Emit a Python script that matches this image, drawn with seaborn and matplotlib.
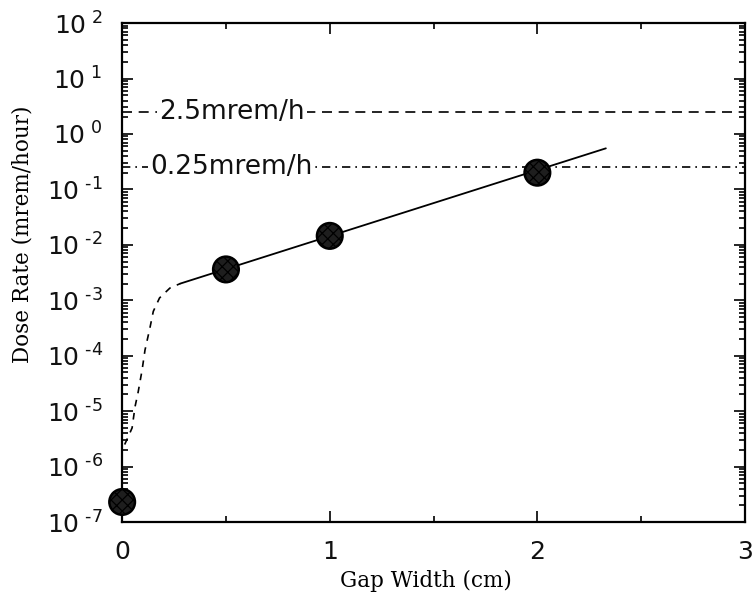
import numpy as np
import pandas as pd
import matplotlib
matplotlib.use("Agg")
import matplotlib.pyplot as plt
import seaborn as sns
from matplotlib.ticker import LogLocator, FixedLocator, NullFormatter

# Data
point_gap = [0.0, 0.5, 1.0, 2.0]
point_dose = [2.3e-7, 3.6e-3, 1.45e-2, 0.2]

fit_gap = [0.28, 2.33]
fit_dose = [2.0e-3, 0.55]

curve_gap = [0.012, 0.03, 0.048, 0.062, 0.077, 0.096, 0.11, 0.134, 0.15, 0.18, 0.23, 0.28]
curve_dose = [2.5e-6, 3.5e-6, 5.0e-6, 1.2e-5, 2.2e-5, 5.5e-5, 1.26e-4,
              3.2e-4, 6.3e-4, 1.1e-3, 1.66e-3, 2.0e-3]

limit_values = [2.5, 0.25]
limit_labels = ["2.5mrem/h", "0.25mrem/h"]

x_ticks = [0, 1, 2, 3]
y_exponents = [-7, -6, -5, -4, -3, -2, -1, 0, 1, 2]

sns.set_style("ticks")
plt.rcParams["font.family"] = ["DejaVu Sans"]
plt.rcParams["text.color"] = "black"
plt.rcParams["xtick.color"] = "black"
plt.rcParams["ytick.color"] = "black"
plt.rcParams["axes.labelcolor"] = "black"
plt.rcParams["hatch.color"] = "#9a9a9a"
plt.rcParams["hatch.linewidth"] = 0.9

fig = plt.figure(figsize=(7.54, 5.99), dpi=100)
ax = fig.add_axes([0.162, 0.1285, 0.826, 0.833])

# limit lines
ax.axhline(limit_values[0], color="black", lw=1.2, ls=(0, (6, 4)), zorder=1)
ax.axhline(limit_values[1], color="black", lw=1.2, ls=(0, (5, 3, 1, 3)), zorder=1)
label_x = [0.18, 0.135]
for v, lab, lx in zip(limit_values, limit_labels, label_x):
    ax.text(lx, v, lab, fontsize=19, va="center", ha="left", color="#111111",
            bbox=dict(facecolor="white", edgecolor="none", pad=1.5), zorder=2)

df_curve = pd.DataFrame({"gap": curve_gap, "dose": curve_dose})
sns.lineplot(data=df_curve, x="gap", y="dose", ax=ax, color="black", lw=1.2,
             ls=(0, (4, 4)), sort=False, estimator=None)
df_fit = pd.DataFrame({"gap": fit_gap, "dose": fit_dose})
sns.lineplot(data=df_fit, x="gap", y="dose", ax=ax, color="black", lw=1.3,
             sort=False, estimator=None)
df_pts = pd.DataFrame({"gap": point_gap, "dose": point_dose})
sns.scatterplot(data=df_pts, x="gap", y="dose", ax=ax, s=340, color="#1e1e1e",
                edgecolor="black", linewidth=1.8, zorder=5, clip_on=False,
                hatch="xxx")

ax.set_yscale("log")
ax.set_xlim(0, 3)
ax.set_ylim(1e-7, 1e2)

ax.xaxis.set_major_locator(FixedLocator(x_ticks))
ax.set_xticklabels([str(t) for t in x_ticks])
ax.xaxis.set_minor_locator(FixedLocator([0.5, 1.5, 2.5]))
ax.yaxis.set_major_locator(FixedLocator([10.0 ** e for e in y_exponents]))
ax.set_yticklabels([r"$\mathregular{10^{\ %s}}$" % str(e).replace("-", "\u2010 ")
                    for e in y_exponents])
ax.yaxis.set_minor_locator(LogLocator(base=10, subs=np.arange(2, 10), numticks=20))
ax.yaxis.set_minor_formatter(NullFormatter())

ax.tick_params(axis="both", which="both", direction="in", top=True, right=True,
               color="black", width=1.2)
ax.tick_params(axis="both", which="major", length=8, labelsize=18, labelcolor="#111111")
ax.tick_params(axis="both", which="minor", length=4)
ax.tick_params(axis="y", which="major", pad=14)
ax.tick_params(axis="x", which="major", pad=13)

for sp in ax.spines.values():
    sp.set_linewidth(1.6)
    sp.set_color("black")

ax.set_xlabel("Gap Width (cm)", family="DejaVu Serif", fontsize=15.5)
ax.set_ylabel("Dose Rate (mrem/hour)", family="DejaVu Serif", fontsize=15.5)
ax.xaxis.set_label_coords(0.487, -0.096)
ax.yaxis.set_label_coords(-0.142, 0.577)

fig.savefig("out.png", dpi=100)
